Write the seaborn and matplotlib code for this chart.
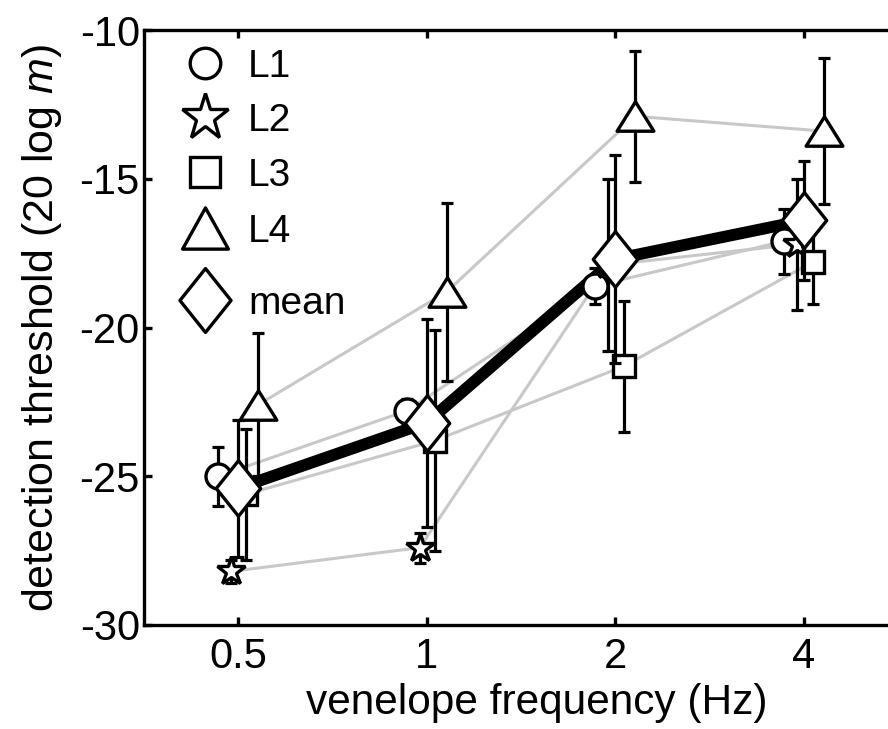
import matplotlib
matplotlib.use("Agg")
import matplotlib.pyplot as plt
from matplotlib.path import Path
import numpy as np
import pandas as pd
import seaborn as sns

# envelope frequencies (Hz)
freqs = [0.5, 1, 2, 4]
freq_labels = ["0.5", "1", "2", "4"]

# detection thresholds per listener (20 log m) and their error bars
L1 = [-25.0, -22.8, -18.6, -17.1]
L1_err = [1.0, 0.4, 0.6, 1.1]
L2 = [-28.2, -27.4, -17.9, -17.2]
L2_err = [0.4, 0.5, 2.9, 2.2]
L3 = [-25.6, -23.8, -21.3, -17.8]
L3_err = [2.2, 3.7, 2.2, 1.4]
L4 = [-22.6, -18.8, -12.9, -13.4]
L4_err = [2.4, 3.0, 2.2, 2.45]
mean = [-25.4, -23.2, -17.7, -16.4]
mean_err = [2.3, 3.5, 3.5, 2.0]

legend_labels = ["L1", "L2", "L3", "L4", "mean"]
y_ticks = [-30, -25, -20, -15, -10]

sns.set_theme(style="ticks")
plt.rcParams["font.family"] = ["Liberation Sans", "DejaVu Sans"]
plt.rcParams["mathtext.fontset"] = "custom"
plt.rcParams["mathtext.rm"] = "Liberation Sans"
plt.rcParams["mathtext.it"] = "Liberation Sans:italic"
plt.rcParams["text.color"] = "black"
plt.rcParams["axes.labelcolor"] = "black"

fig = plt.figure(figsize=(8.88, 7.29), dpi=100)
W, H = 888, 729
x0, x1, y0, y1 = 144, 930, 30, 625
ax = fig.add_axes([x0 / W, 1 - y1 / H, (x1 - x0) / W, (y1 - y0) / H])

# small horizontal shift (in octaves) so the series do not sit on top of each other
shift = {"L1": -0.106, "L2": -0.037, "L3": 0.045, "L4": 0.106, "mean": 0.0}

series = {"L1": (L1, L1_err), "L2": (L2, L2_err), "L3": (L3, L3_err), "L4": (L4, L4_err)}
rows = []
for name, (vals, errs) in series.items():
    for f, v, e in zip(freqs, vals, errs):
        rows.append({"listener": name, "freq": f * 2 ** shift[name], "thr": v, "err": e})
df = pd.DataFrame(rows)

# thin grey lines joining each listener's thresholds
sns.lineplot(data=df, x="freq", y="thr", units="listener", estimator=None,
             color="#c8c8c8", lw=2.2, ax=ax, zorder=1, legend=False)

# thick black line for the mean
sns.lineplot(x=freqs, y=mean, color="black", lw=8.5, ax=ax, zorder=2, legend=False)

tri = Path([(0, 0.8), (1, -0.8), (-1, -0.8), (0, 0.8)],
           [Path.MOVETO, Path.LINETO, Path.LINETO, Path.CLOSEPOLY])
tri_leg = Path([(0, 0.9), (1, -0.9), (-1, -0.9), (0, 0.9)],
               [Path.MOVETO, Path.LINETO, Path.LINETO, Path.CLOSEPOLY])
dia = Path([(0, 1), (0.8, 0), (0, -1), (-0.8, 0), (0, 1)],
           [Path.MOVETO, Path.LINETO, Path.LINETO, Path.LINETO, Path.CLOSEPOLY])

styles = {
    "L1": dict(marker="o", ms=18),
    "L2": dict(marker="*", ms=21),
    "L3": dict(marker="s", ms=16.5),
    "L4": dict(marker=tri, ms=26.5),
    "mean": dict(marker=dia, ms=40),
}
leg_styles = {
    "L1": dict(marker="o", ms=22),
    "L2": dict(marker="*", ms=35),
    "L3": dict(marker="s", ms=22),
    "L4": dict(marker=tri_leg, ms=33),
    "mean": dict(marker=dia, ms=46),
}

ebar = dict(fmt="none", ecolor="black", elinewidth=2.3, capsize=4, capthick=2.3)
mk = dict(ls="none", mfc="white", mec="black", mew=2.4)

z = 3
for name in ["L1", "L2", "L3", "L4"]:
    sub = df[df.listener == name]
    ax.errorbar(sub["freq"], sub["thr"], yerr=sub["err"], zorder=z, **ebar)
    ax.plot(sub["freq"], sub["thr"], zorder=z + 0.5, **mk, **styles[name])
    z += 1
ax.errorbar(freqs, mean, yerr=mean_err, zorder=z, **ebar)
ax.plot(freqs, mean, zorder=z + 0.5, **mk, **styles["mean"])

# log2 axis: 0.5 Hz sits at x0 + 94 px, one octave spans ~188.7 px
ax.set_xscale("log", base=2)
ax.set_xlim(0.5 * 2 ** (-94 / 188.7), 0.5 * 2 ** ((x1 - x0 - 94) / 188.7))
ax.set_ylim(-30, -10)
ax.set_xticks(freqs)
ax.set_xticklabels(freq_labels)
ax.xaxis.set_minor_locator(matplotlib.ticker.NullLocator())
ax.set_yticks(y_ticks)
ax.set_yticklabels([str(t) for t in y_ticks])

for s in ax.spines.values():
    s.set_linewidth(2.4)
    s.set_color("black")
ax.tick_params(axis="both", which="major", direction="in", length=6, width=2.4,
               labelsize=30, colors="black", top=True, right=True)
ax.tick_params(axis="y", pad=3)
ax.tick_params(axis="x", pad=9)

ax.set_xlabel("venelope frequency (Hz)", fontsize=30.5, labelpad=4)
ax.set_ylabel("detection threshold (20 log $m$)", fontsize=31, labelpad=11)

# key: marker column and label column in the upper-left corner
ax_w, ax_h = x1 - x0, y1 - y0
key_rows_px = [63, 117, 172, 228, 300]
for name, yp in zip(legend_labels, key_rows_px):
    yk = 1 - (yp - y0) / ax_h
    ax.plot([(205 - x0) / ax_w], [yk], transform=ax.transAxes, clip_on=False,
            zorder=20, **mk, **leg_styles[name])
    ax.text((248 - x0) / ax_w, yk - 0.006, name, transform=ax.transAxes,
            fontsize=28, va="center", ha="left", zorder=20)

fig.savefig("out.png", dpi=100)
